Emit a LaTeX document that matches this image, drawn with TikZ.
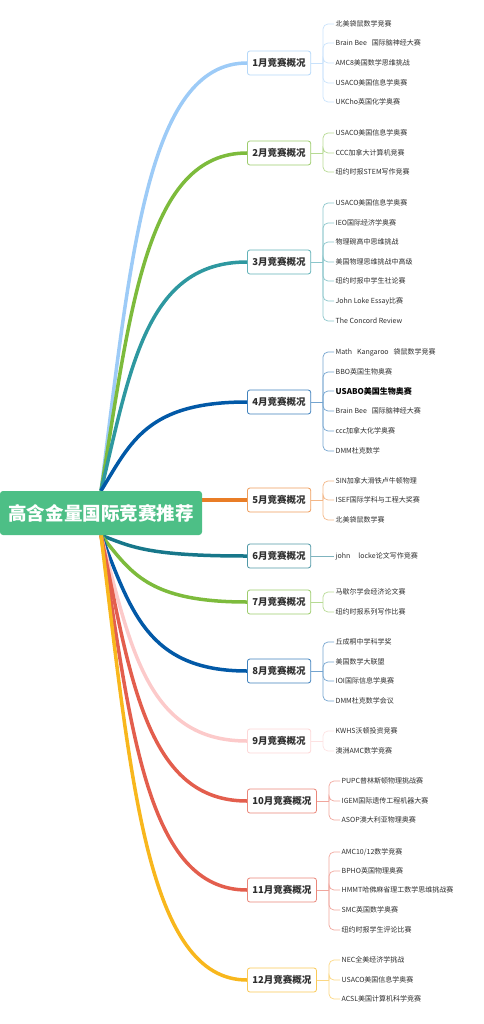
\documentclass[tikz,border=0pt]{standalone}
\usepackage{fontspec}
\setmainfont{Noto Sans CJK SC}
\usetikzlibrary{calc,backgrounds}

\definecolor{rootgreen}{HTML}{4DBF86}
\definecolor{cjan}{HTML}{9DCBF7}
\definecolor{cfeb}{HTML}{7DBB3C}
\definecolor{cmar}{HTML}{2E98A0}
\definecolor{capr}{HTML}{0259A7}
\definecolor{cmay}{HTML}{E97D26}
\definecolor{cjun}{HTML}{17778A}
\definecolor{cjul}{HTML}{7DBB3C}
\definecolor{caug}{HTML}{0259A7}
\definecolor{csep}{HTML}{FCCACA}
\definecolor{coct}{HTML}{E35E4D}
\definecolor{cnov}{HTML}{E35E4D}
\definecolor{cdec}{HTML}{F8B71D}
\definecolor{txt}{HTML}{2E2E2E}

\tikzset{
  root/.style={fill=rootgreen, rounded corners=3pt, minimum width=202pt, minimum height=44pt,
    inner sep=0pt, text=white, font=\bfseries\fontsize{18.5}{20}\selectfont},
  month/.style={draw=#1!75, fill=white, rounded corners=2.5pt, line width=0.8pt, anchor=west,
    minimum height=24pt, inner xsep=5pt, text=txt, font=\bfseries\fontsize{9.5}{10}\selectfont},
  leaf/.style={anchor=west, inner sep=1.5pt, text=txt, font=\fontsize{7}{8}\selectfont},
  branch/.style={line width=3.5pt, draw=#1},
  twig/.style={line width=0.7pt, draw=#1!55, rounded corners=5pt},
  mindcurve/.style={to path={.. controls ($(\tikztostart)!0.55!(\tikztostart |- \tikztotarget)+(30,0)$)
    and ($(\tikztotarget)+(-100,0)$) .. (\tikztotarget)}}
}

\begin{document}
\begin{tikzpicture}[x=1pt,y=-1pt]
  \useasboundingbox (0,0) rectangle (483,1024);

  % root
  \node[root] (root) at (101,513) {高含金量国际竞赛推荐};

  % month boxes
  \node[month=cjan] (jan) at (247,63) {1月竞赛概况};
  \node[month=cfeb] (feb) at (247,153) {2月竞赛概况};
  \node[month=cmar] (mar) at (247,262) {3月竞赛概况};
  \node[month=capr] (apr) at (247,402) {4月竞赛概况};
  \node[month=cmay] (may) at (247,500) {5月竞赛概况};
  \node[month=cjun] (jun) at (247,556) {6月竞赛概况};
  \node[month=cjul] (jul) at (247,602) {7月竞赛概况};
  \node[month=caug] (aug) at (247,671) {8月竞赛概况};
  \node[month=csep] (sep) at (247,741) {9月竞赛概况};
  \node[month=coct] (oct) at (247,801) {10月竞赛概况};
  \node[month=cnov] (nov) at (247,890) {11月竞赛概况};
  \node[month=cdec] (dec) at (247,980) {12月竞赛概况};

  % main branches, behind the root
  \begin{scope}[on background layer]
    \draw[branch=cjan] (root.north) to[mindcurve] (jan.west);
    \draw[branch=cfeb] (root.north) to[mindcurve] (feb.west);
    \draw[branch=cmar] (root.north) to[mindcurve] (mar.west);
    \draw[branch=capr] (root.north) to[mindcurve] (apr.west);
    \draw[branch=cmay] (root.east |- may.west) -- (may.west);
    \draw[branch=cjun] (root.south) to[mindcurve] (jun.west);
    \draw[branch=cjul] (root.south) to[mindcurve] (jul.west);
    \draw[branch=caug] (root.south) to[mindcurve] (aug.west);
    \draw[branch=csep] (root.south) to[mindcurve] (sep.west);
    \draw[branch=coct] (root.south) to[mindcurve] (oct.west);
    \draw[branch=cnov] (root.south) to[mindcurve] (nov.west);
    \draw[branch=cdec] (root.south) to[mindcurve] (dec.west);
  \end{scope}

  % 1月
  \coordinate (janh) at (323,63);
  \node[leaf] (jan1) at (334,24) {北美袋鼠数学竞赛};
  \node[leaf] (jan2) at (334,43) {Brain Bee\hspace{5pt}国际脑神经大赛};
  \node[leaf] (jan3) at (334,63) {AMC8美国数学思维挑战};
  \node[leaf] (jan4) at (334,83) {USACO美国信息学奥赛};
  \node[leaf] (jan5) at (334,102) {UKCho英国化学奥赛};
  \draw[twig=cjan] (jan.east) -- (janh);
  \foreach \n in {1,...,5} \draw[twig=cjan] (janh) |- (jan\n.west);

  % 2月
  \coordinate (febh) at (323,153);
  \node[leaf] (feb1) at (334,133) {USACO美国信息学奥赛};
  \node[leaf] (feb2) at (334,153) {CCC加拿大计算机竞赛};
  \node[leaf] (feb3) at (334,172) {纽约时报STEM写作竞赛};
  \draw[twig=cfeb] (feb.east) -- (febh);
  \foreach \n in {1,...,3} \draw[twig=cfeb] (febh) |- (feb\n.west);

  % 3月
  \coordinate (marh) at (323,262);
  \node[leaf] (mar1) at (334,203) {USACO美国信息学奥赛};
  \node[leaf] (mar2) at (334,223) {IEO国际经济学奥赛};
  \node[leaf] (mar3) at (334,242) {物理碗高中思维挑战};
  \node[leaf] (mar4) at (334,262) {美国物理思维挑战中高级};
  \node[leaf] (mar5) at (334,281) {纽约时报中学生社论赛};
  \node[leaf] (mar6) at (334,301) {John Loke Essay比赛};
  \node[leaf] (mar7) at (334,321) {The Concord Review};
  \draw[twig=cmar] (mar.east) -- (marh);
  \foreach \n in {1,...,7} \draw[twig=cmar] (marh) |- (mar\n.west);

  % 4月
  \coordinate (aprh) at (323,402);
  \node[leaf] (apr1) at (334,352) {Math\hspace{5pt}Kangaroo\hspace{5pt}袋鼠数学竞赛};
  \node[leaf] (apr2) at (334,372) {BBO英国生物奥赛};
  \node[leaf, text=black, font=\bfseries\fontsize{8}{9}\selectfont] (apr3) at (334,391) {USABO美国生物奥赛};
  \node[leaf] (apr4) at (334,411) {Brain Bee\hspace{5pt}国际脑神经大赛};
  \node[leaf] (apr5) at (334,431) {ccc加拿大化学奥赛};
  \node[leaf] (apr6) at (334,451) {DMM杜克数学};
  \draw[twig=capr] (apr.east) -- (aprh);
  \foreach \n in {1,...,6} \draw[twig=capr] (aprh) |- (apr\n.west);

  % 5月
  \coordinate (mayh) at (323,500);
  \node[leaf] (may1) at (334,481) {SIN加拿大滑铁卢牛顿物理};
  \node[leaf] (may2) at (334,500) {ISEF国际学科与工程大奖赛};
  \node[leaf] (may3) at (334,520) {北美袋鼠数学赛};
  \draw[twig=cmay] (may.east) -- (mayh);
  \foreach \n in {1,...,3} \draw[twig=cmay] (mayh) |- (may\n.west);

  % 6月
  \node[leaf] (jun1) at (334,556) {john\hspace{8pt}locke论文写作竞赛};
  \draw[twig=cjun] (jun.east) -- (jun1.west);

  % 7月
  \coordinate (julh) at (323,602);
  \node[leaf] (jul1) at (334,592) {马歇尔学会经济论文赛};
  \node[leaf] (jul2) at (334,612) {纽约时报系列写作比赛};
  \draw[twig=cjul] (jul.east) -- (julh);
  \foreach \n in {1,2} \draw[twig=cjul] (julh) |- (jul\n.west);

  % 8月
  \coordinate (augh) at (323,671);
  \node[leaf] (aug1) at (334,642) {丘成桐中学科学奖};
  \node[leaf] (aug2) at (334,662) {美国数学大联盟};
  \node[leaf] (aug3) at (334,681) {IOI国际信息学奥赛};
  \node[leaf] (aug4) at (334,701) {DMM杜克数学会议};
  \draw[twig=caug] (aug.east) -- (augh);
  \foreach \n in {1,...,4} \draw[twig=caug] (augh) |- (aug\n.west);

  % 9月
  \coordinate (seph) at (323,741);
  \node[leaf] (sep1) at (334,731) {KWHS沃顿投资竞赛};
  \node[leaf] (sep2) at (334,751) {澳洲AMC数学竞赛};
  \draw[twig=csep] (sep.east) -- (seph);
  \foreach \n in {1,2} \draw[twig=csep] (seph) |- (sep\n.west);

  % 10月
  \coordinate (octh) at (329,801);
  \node[leaf] (oct1) at (340,781) {PUPC普林斯顿物理挑战赛};
  \node[leaf] (oct2) at (340,801) {IGEM国际遗传工程机器大赛};
  \node[leaf] (oct3) at (340,820) {ASOP澳大利亚物理奥赛};
  \draw[twig=coct] (oct.east) -- (octh);
  \foreach \n in {1,...,3} \draw[twig=coct] (octh) |- (oct\n.west);

  % 11月
  \coordinate (novh) at (329,890);
  \node[leaf] (nov1) at (340,852) {AMC10/12数学竞赛};
  \node[leaf] (nov2) at (340,871) {BPHO英国物理奥赛};
  \node[leaf] (nov3) at (340,890) {HMMT哈佛麻省理工数学思维挑战赛};
  \node[leaf] (nov4) at (340,910) {SMC英国数学奥赛};
  \node[leaf] (nov5) at (340,930) {纽约时报学生评论比赛};
  \draw[twig=cnov] (nov.east) -- (novh);
  \foreach \n in {1,...,5} \draw[twig=cnov] (novh) |- (nov\n.west);

  % 12月
  \coordinate (dech) at (329,980);
  \node[leaf] (dec1) at (340,960) {NEC全美经济学挑战};
  \node[leaf] (dec2) at (340,980) {USACO美国信息学奥赛};
  \node[leaf] (dec3) at (340,999) {ACSL美国计算机科学竞赛};
  \draw[twig=cdec] (dec.east) -- (dech);
  \foreach \n in {1,...,3} \draw[twig=cdec] (dech) |- (dec\n.west);
\end{tikzpicture}
\end{document}
